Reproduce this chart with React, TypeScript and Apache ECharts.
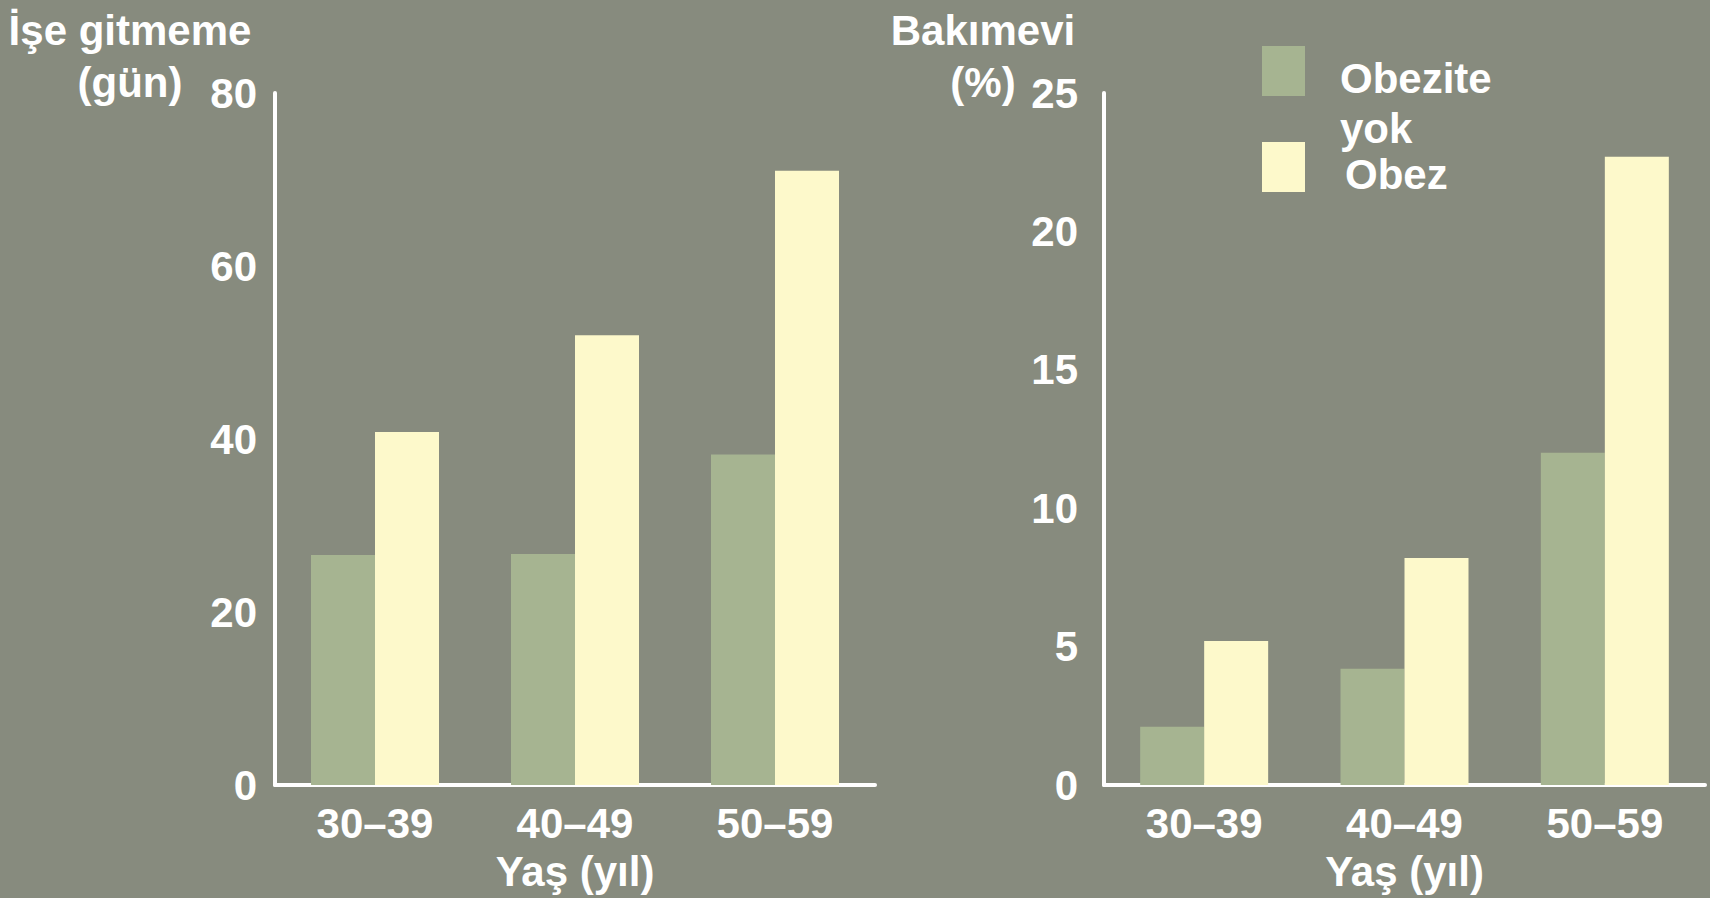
import React, { useEffect, useRef } from "react";
import * as echarts from "echarts";

// Age groups on both panels
const ageGroups = ["30–39", "40–49", "50–59"];

// Series names and the legend captions drawn for them
const seriesNames = ["Obezite yok", "Obez"];
const legendLabels = ["Obezite\nyok", "Obez"];

// Left panel: days of absence from work
const absenceNonObese = [26.6, 26.7, 38.2];
const absenceObese = [40.8, 52.0, 71.0];
const absenceTicks = [0, 20, 40, 60, 80];

// Right panel: nursing home admission (%)
const nursingNonObese = [2.1, 4.2, 12.0];
const nursingObese = [5.2, 8.2, 22.7];
const nursingTicks = [0, 5, 10, 15, 20, 25];

const leftTitle = "İşe gitmeme\n(gün)";
const rightTitle = "Bakımevi\n(%)";
const xAxisTitle = "Yaş (yıl)";

const COLORS = {
  background: "#878b7e",
  nonObese: "#a6b491",
  obese: "#fdf9cb",
  ink: "#ffffff",
};
const FONT = "'Liberation Sans', Arial, sans-serif";
const FONT_SIZE = 42;

function valueAxis(ticks: number[], gridIndex: number, labelMargin: number) {
  return {
    type: "value",
    gridIndex,
    min: ticks[0],
    max: ticks[ticks.length - 1],
    interval: ticks[1] - ticks[0],
    axisLine: { show: true, lineStyle: { color: COLORS.ink, width: 4 } },
    axisTick: { show: false },
    splitLine: { show: false },
    axisLabel: {
      color: COLORS.ink,
      fontFamily: FONT,
      fontWeight: "bold",
      fontSize: FONT_SIZE,
      margin: labelMargin,
    },
  };
}

function categoryAxis(gridIndex: number) {
  return {
    type: "category",
    gridIndex,
    data: ageGroups,
    axisLine: { show: true, lineStyle: { color: COLORS.ink, width: 4 } },
    axisTick: { show: false },
    axisLabel: {
      color: COLORS.ink,
      fontFamily: FONT,
      fontWeight: "bold",
      fontSize: FONT_SIZE,
      margin: 17,
    },
    name: xAxisTitle,
    nameLocation: "middle",
    nameGap: 65,
    nameTextStyle: {
      color: COLORS.ink,
      fontFamily: FONT,
      fontWeight: "bold",
      fontSize: FONT_SIZE,
    },
  };
}

function bar(name: string, data: number[], color: string, axisIndex: number) {
  return {
    type: "bar",
    name,
    data,
    xAxisIndex: axisIndex,
    yAxisIndex: axisIndex,
    barWidth: 64,
    barGap: "0%",
    itemStyle: { color },
  };
}

function titleText(text: string, x: number) {
  return {
    type: "text",
    x,
    y: 4,
    style: {
      text,
      fill: COLORS.ink,
      font: `bold ${FONT_SIZE}px ${FONT}`,
      lineHeight: 52,
      textAlign: "center",
      textVerticalAlign: "top",
    },
  };
}

export default function App() {
  const ref = useRef<HTMLDivElement>(null);

  useEffect(() => {
    document.body.style.margin = "0";
    const el = ref.current;
    if (!el) return;
    const chart = echarts.init(el, null, { renderer: "svg" });

    const legendColors = [COLORS.nonObese, COLORS.obese];
    const legendTops = [46, 142];
    const legendTextTops = [53, 149];
    const legendTextLefts = [1340, 1345];

    const legendGraphics: any[] = [];
    seriesNames.forEach((_, i) => {
      legendGraphics.push({
        type: "rect",
        shape: { x: 1262, y: legendTops[i], width: 43, height: 50 },
        style: { fill: legendColors[i] },
      });
      legendGraphics.push({
        type: "text",
        x: legendTextLefts[i],
        y: legendTextTops[i],
        style: {
          text: legendLabels[i],
          fill: COLORS.ink,
          font: `bold ${FONT_SIZE}px ${FONT}`,
          lineHeight: 50,
          textAlign: "left",
          textVerticalAlign: "top",
        },
      });
    });

    chart.setOption({
      animation: false,
      backgroundColor: COLORS.background,
      grid: [
        { left: 275, top: 93, width: 600, height: 692 },
        { left: 1104, top: 93, width: 601, height: 692 },
      ],
      xAxis: [categoryAxis(0), categoryAxis(1)],
      yAxis: [valueAxis(absenceTicks, 0, 18), valueAxis(nursingTicks, 1, 26)],
      series: [
        bar(seriesNames[0], absenceNonObese, COLORS.nonObese, 0),
        bar(seriesNames[1], absenceObese, COLORS.obese, 0),
        bar(seriesNames[0], nursingNonObese, COLORS.nonObese, 1),
        bar(seriesNames[1], nursingObese, COLORS.obese, 1),
      ],
      graphic: [titleText(leftTitle, 130), titleText(rightTitle, 983), ...legendGraphics],
    });

    return () => chart.dispose();
  }, []);

  return (
    <div
      ref={ref}
      style={{ position: "fixed", left: 0, top: 0, width: 1710, height: 898 }}
    />
  );
}
